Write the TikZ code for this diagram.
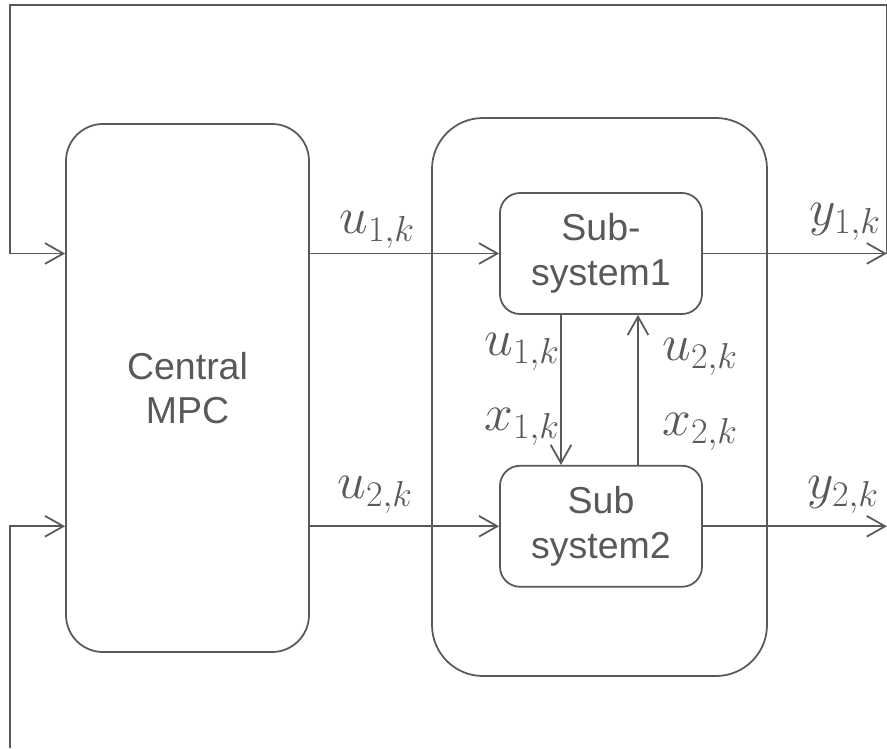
\documentclass[tikz,border=0pt]{standalone}
\usepackage{fix-cm}
\usepackage{fontspec}
\setmainfont{Liberation Sans}
\usepackage{tikz}
\usetikzlibrary{positioning,arrows.meta}
\usepackage{amsmath,amssymb}
\definecolor{linegray}{HTML}{595959}

\begin{document}
\begin{tikzpicture}[x=0.03cm, y=-0.03cm, line width=1.5pt, color=linegray,
        >={Straight Barb[length=0.55cm,width=0.62cm]},
        block/.style={draw, rounded corners=0.6cm, minimum width=6.06cm, minimum height=3.63cm, align=center, font=\fontsize{32}{38}\selectfont},
        sig/.style={font=\fontsize{44}{52}\selectfont}]
        \useasboundingbox (0,0) rectangle (887,748);
        % Controller and plant
        \node[block, minimum width=7.29cm, minimum height=15.84cm, rounded corners=1.11cm] (mpc) at (187.5,388) {Central\\MPC};
        \node[draw, rounded corners=1.53cm, minimum width=10.05cm, minimum height=16.74cm] (plant) at (599.5,397) {};
        % Subsystems
        \node[block] (sub1) at (601,253.5) {Sub-\\system1};
        \node[block, below=4.5cm of sub1] (sub2) {Sub\\system2};
        % Free ends of the loops
        \coordinate (y1end) at ([xshift=5.52cm]sub1.east);
        \coordinate (y2end) at ([xshift=5.52cm]sub2.east);
        \coordinate (fbL) at (10,5);
        \coordinate (fbB) at (10,748);
        % Inputs and outputs
        \draw[->] (mpc.east |- sub1.west) -- (sub1.west);
        \draw[->] (mpc.east |- sub2.west) -- (sub2.west);
        \draw[->] (sub1.east) -- (y1end);
        \draw[->] (sub2.east) -- (y2end);
        % Coupling between subsystems
        \draw[->] ([xshift=-1.2cm]sub1.south) -- ([xshift=-1.2cm]sub2.north);
        \draw[->] ([xshift=1.11cm]sub2.north) -- ([xshift=1.11cm]sub1.south);
        % Feedback
        \draw[->] (y1end) |- (fbL) |- (mpc.west |- sub1.west);
        \draw[->] (fbB) |- (mpc.west |- sub2.west);
        % Labels
        \node[sig] (lu1) at (377,230) {$u_{1,k}$};
        \node[sig] (lu2) at (375,495) {$u_{2,k}$};
        \node[sig] (ly1) at (845,222) {$y_{1,k}$};
        \node[sig] (ly2) at (843,495) {$y_{2,k}$};
        \node[sig] (lu1v) at (522,352) {$u_{1,k}$};
        \node[sig] (lx1) at (522,427) {$x_{1,k}$};
        \node[sig] (lu2v) at (700,357) {$u_{2,k}$};
        \node[sig] (lx2) at (700,432) {$x_{2,k}$};
        \end{tikzpicture}
\end{document}
